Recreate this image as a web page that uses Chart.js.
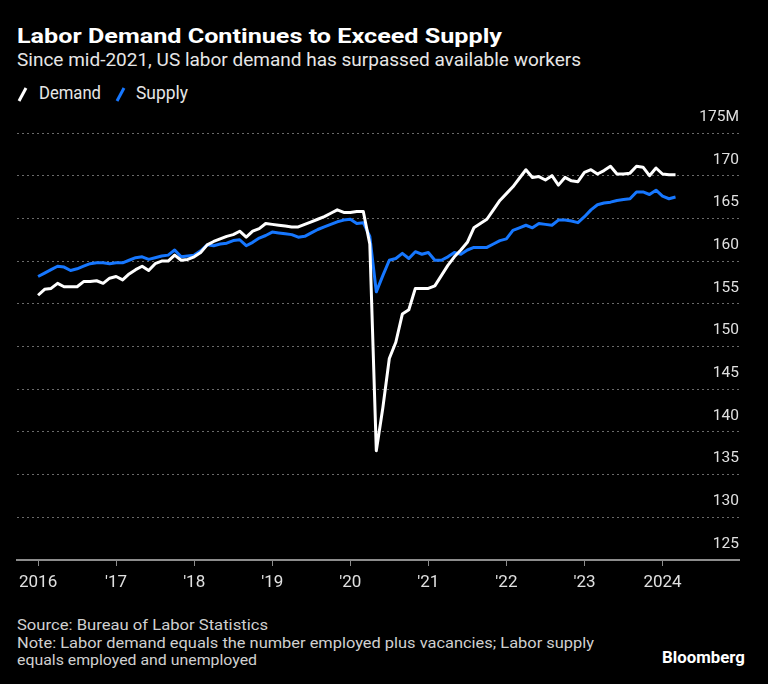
<!DOCTYPE html>
<html>
<head>
<meta charset="utf-8">
<script src="https://cdn.jsdelivr.net/npm/chart.js@4.4.1/dist/chart.umd.min.js"></script>
<style>
    body { margin: 0; background: #000; }
    #page { position: relative; width: 768px; height: 684px; overflow: hidden; background: #000; font-family: Roboto, "Open Sans", sans-serif; }
    .txt { position: absolute; left: 17px; white-space: nowrap; line-height: 1; transform-origin: 0 0; }
    #title { top: 26px; font-size: 20px; font-weight: bold; color: #fff; }
    #subtitle { top: 52px; font-size: 17.5px; color: #e6e6e6; }
    #legend { position: absolute; left: 17px; top: 85px; height: 18px; color: #e6e6e6; font-size: 17.5px; line-height: 1; }
    #legend span { position: absolute; top: 0; white-space: nowrap; transform-origin: 0 0; }
    #legend svg { position: absolute; top: 1px; }
    #chartWrap { position: absolute; left: 0; top: 100px; width: 768px; height: 500px; }
    #footer { top: 617px; font-size: 15px; line-height: 17.7px; color: #d0d0d0; }
    #footer div { width: max-content; white-space: nowrap; transform-origin: 0 0; }
    #brand { left: 662px; top: 649px; font-size: 17px; font-weight: bold; color: #fff; }
</style>
</head>
<body>
<div id="page">
    <div class="txt" id="title" data-w="485">Labor Demand Continues to Exceed Supply</div>
    <div class="txt" id="subtitle" data-w="564">Since mid-2021, US labor demand has surpassed available workers</div>
    <div id="legend">
        <svg width="12" height="16" style="left:0"><line x1="2" y1="15" x2="9" y2="2" stroke="#fff" stroke-width="3"/></svg>
        <span style="left:22px" data-w="62">Demand</span>
        <svg width="12" height="16" style="left:98px"><line x1="2" y1="15" x2="9" y2="2" stroke="#1677ff" stroke-width="3"/></svg>
        <span style="left:119px" data-w="52">Supply</span>
    </div>
    <div id="chartWrap"><canvas id="laborChart" width="768" height="500"></canvas></div>
    <div class="txt" id="footer">
        <div data-w="251">Source: Bureau of Labor Statistics</div>
        <div data-w="577">Note: Labor demand equals the number employed plus vacancies; Labor supply</div>
        <div data-w="240">equals employed and unemployed</div>
    </div>
    <div class="txt" id="brand" data-w="83">Bloomberg</div>
</div>

<script>
// Monthly values in millions, first point = Dec 2015 (plotted at month end)
const demand = [
    156.0, 156.7, 156.8, 157.4, 157.0, 157.0, 157.0, 157.6, 157.6, 157.7, 157.4, 158.0,
    158.2, 157.8, 158.5, 159.0, 159.4, 158.9, 159.7, 160.0, 160.0, 160.7, 160.1, 160.2,
    160.5, 161.0, 161.9, 162.3, 162.6, 162.9, 163.1, 163.5, 162.8, 163.5, 163.8, 164.4,
    164.3, 164.2, 164.1, 164.0, 164.0, 164.3, 164.6, 164.9, 165.2, 165.6, 166.0, 165.7,
    165.7, 165.8, 165.8, 162.0, 137.8, 142.8, 148.6, 150.5, 153.8, 154.3, 156.8, 156.8,
    156.8, 157.1, 158.3, 159.5, 160.5, 161.3, 162.2, 163.9, 164.4, 164.9, 166.0, 167.1,
    167.9, 168.7, 169.7, 170.7, 169.8, 169.9, 169.5, 170.0, 168.9, 169.8, 169.4, 169.3,
    170.4, 170.7, 170.2, 170.6, 171.1, 170.2, 170.2, 170.3, 171.1, 171.0, 170.0, 170.9,
    170.2, 170.1, 170.1
];

const supply = [
    158.2, 158.6, 159.0, 159.4, 159.3, 158.9, 159.1, 159.4, 159.7, 159.8, 159.8, 159.7,
    159.8, 159.8, 160.1, 160.4, 160.5, 160.2, 160.4, 160.6, 160.7, 161.3, 160.5, 160.6,
    160.7, 161.2, 161.9, 161.8, 162.0, 162.1, 162.4, 162.5, 161.8, 162.2, 162.7, 163.0,
    163.4, 163.3, 163.2, 163.1, 162.8, 162.9, 163.3, 163.7, 164.0, 164.3, 164.6, 164.8,
    164.9, 164.4, 164.5, 162.9, 156.4, 158.3, 160.1, 160.3, 160.9, 160.3, 161.1, 160.8,
    161.0, 160.1, 160.1, 160.5, 161.0, 160.8, 161.3, 161.6, 161.6, 161.6, 162.0, 162.4,
    162.6, 163.6, 163.9, 164.2, 163.9, 164.4, 164.3, 164.2, 164.8, 164.8, 164.7, 164.5,
    165.2, 166.0, 166.6, 166.8, 166.9, 167.1, 167.2, 167.3, 168.1, 168.1, 167.8, 168.3,
    167.6, 167.3, 167.5
];

const yearLabels = ["2016", "'17", "'18", "'19", "'20", "'21", "'22", "'23", "2024"];
const yTicks = [125, 130, 135, 140, 145, 150, 155, 160, 165, 170, 175];

const fontFamily = "Roboto, 'Open Sans', sans-serif";

// x = years since start of 2016, point i sits at the end of its month
function toPoints(values) {
    return values.map((v, i) => ({ x: i / 12, y: v }));
}

// squeeze/stretch header and footer lines to the widths of the original
function fitWidths() {
    document.querySelectorAll("[data-w]").forEach(el => {
        const target = parseFloat(el.dataset.w);
        const w = el.getBoundingClientRect().width;
        if (w > 0) el.style.transform = "scaleX(" + (target / w) + ")";
    });
}
fitWidths();

const ctx = document.getElementById("laborChart").getContext("2d");
const laborChart = new Chart(ctx, {
    type: "line",
    data: {
        datasets: [
            {
                label: "Demand",
                data: toPoints(demand),
                borderColor: "#ffffff",
                borderWidth: 3,
                pointRadius: 0,
                borderJoinStyle: "round",
                tension: 0
            },
            {
                label: "Supply",
                data: toPoints(supply),
                borderColor: "#1677ff",
                borderWidth: 3,
                pointRadius: 0,
                borderJoinStyle: "round",
                tension: 0
            }
        ]
    },
    options: {
        responsive: false,
        animation: false,
        devicePixelRatio: 1,
        layout: { padding: { left: 17, right: 29, top: 33, bottom: 0 } },
        plugins: { legend: { display: false }, tooltip: { enabled: false } },
        scales: {
            x: {
                type: "linear",
                min: -0.27,
                max: 8.98,
                afterBuildTicks: axis => { axis.ticks = yearLabels.map((_, k) => ({ value: k })); },
                afterFit: axis => { axis.height = 40; },
                grid: { display: true, drawOnChartArea: false, drawTicks: true, tickLength: 6, color: "#8c8c8c", lineWidth: 1 },
                border: { display: true, color: "#8c8c8c", width: 2 },
                ticks: {
                    color: "#e0e0e0",
                    font: { family: fontFamily, size: 17 },
                    padding: 7,
                    maxRotation: 0,
                    autoSkip: false,
                    callback: (value, index) => yearLabels[index]
                }
            },
            y: {
                position: "right",
                min: 125,
                max: 175,
                afterBuildTicks: axis => { axis.ticks = yTicks.map(v => ({ value: v })); },
                afterFit: axis => { axis.width = 0; },
                grid: { color: "#6a6a6a", lineWidth: 1, drawTicks: false },
                border: { display: false, dash: [2, 3] },
                ticks: {
                    mirror: true,
                    labelOffset: -16,
                    padding: 0,
                    color: "#e0e0e0",
                    font: { family: fontFamily, size: 15.5 },
                    callback: value => value === 175 ? "175M" : value
                }
            }
        }
    }
});
</script>
</body>
</html>
